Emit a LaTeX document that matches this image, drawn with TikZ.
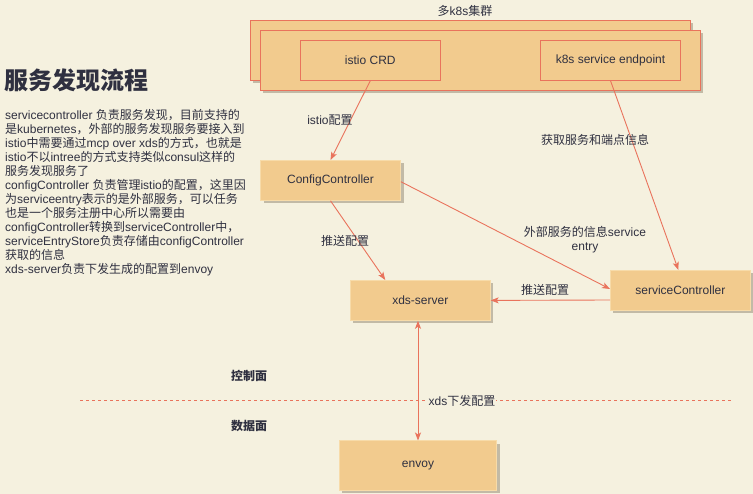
\documentclass[tikz,border=0pt]{standalone}
\usepackage{fontspec}
\setmainfont{Liberation Sans}
\newfontfamily\cjkfont{Noto Sans CJK SC}
\usetikzlibrary{arrows.meta,shadows}
\XeTeXinterchartokenstate=1
\chardef\cjkclass=7
\newcount\cjkcnt
\cjkcnt="4E00
\loop\XeTeXcharclass\cjkcnt=\cjkclass\ifnum\cjkcnt<"9FFF\advance\cjkcnt by 1\repeat
\cjkcnt="FF00
\loop\XeTeXcharclass\cjkcnt=\cjkclass\ifnum\cjkcnt<"FFEF\advance\cjkcnt by 1\repeat
\cjkcnt="3000
\loop\XeTeXcharclass\cjkcnt=\cjkclass\ifnum\cjkcnt<"303F\advance\cjkcnt by 1\repeat
\XeTeXinterchartoks 0 \cjkclass={\cjkfont}
\XeTeXinterchartoks 4095 \cjkclass={\cjkfont}
\XeTeXinterchartoks \cjkclass 0={\rmfamily}
\definecolor{bg}{HTML}{F5F1DF}
\definecolor{boxfill}{HTML}{F2CB8E}
\definecolor{boxedge}{HTML}{F7DBA9}
\definecolor{redc}{HTML}{E9735C}
\definecolor{shadowc}{HTML}{C2BAA6}
\definecolor{txt}{HTML}{2F3040}
\tikzset{
  box/.style={draw=boxedge, fill=boxfill, line width=0.8pt, minimum width=140pt,
    minimum height=40pt, inner sep=0pt, font=\fontsize{12}{14}\selectfont, text=txt,
    drop shadow={shadow xshift=3pt, shadow yshift=-3pt, fill=shadowc, opacity=1}},
  cluster/.style={draw=redc, fill=boxfill, line width=0.8pt, minimum width=440pt,
    minimum height=60pt, inner sep=0pt,
    drop shadow={shadow xshift=3pt, shadow yshift=-3pt, fill=shadowc, opacity=1}},
  inbox/.style={draw=redc, fill=boxfill, line width=0.8pt, minimum width=140pt,
    minimum height=40pt, inner sep=0pt, font=\fontsize{12}{14}\selectfont, text=txt},
  lbl/.style={font=\fontsize{12}{14}\selectfont, text=txt, inner sep=1pt, align=center},
  conn/.style={draw=redc, line width=0.9pt, -{Stealth[length=8pt,width=6pt,inset=2pt]}},
}
\begin{document}
\begin{tikzpicture}[x=1pt,y=-1pt]
\fill[bg] (0,0) rectangle (753,494);
\useasboundingbox (0,0) rectangle (753,494);

% cluster
\node[lbl] (clt) at (465,11) {多k8s集群};
\node[cluster] (cback) at (470.4,50.4) {};
\node[cluster] (cfront) at (480.4,60.4) {};
\node[inbox] (crd) at (370.3,60.3) {istio CRD};
\node[inbox] (ep) at (610.5,60.3) {k8s service endpoint};

% main boxes
\node[box] (cc) at (330.5,180.4) {ConfigController};
\node[box] (xds) at (420.3,300.4) {xds-server};
\node[box] (sc) at (680.4,290.4) {serviceController};
\node[box, minimum width=157.5pt, minimum height=49pt] (envoy) at (418,465.4) {envoy};

% title and description
\node[anchor=west, inner sep=0pt, text=txt, font=\fontsize{24}{28}\selectfont\bfseries] (title) at (4,80) {服务发现流程};
\node[anchor=north west, inner sep=0pt, text=txt, align=left, font=\fontsize{12}{14}\selectfont] (desc) at (5,109) {servicecontroller 负责服务发现，目前支持的\\
是kubernetes，外部的服务发现服务要接入到\\
istio中需要通过mcp over xds的方式，也就是\\
istio不以intree的方式支持类似consul这样的\\
服务发现服务了\\
configController 负责管理istio的配置，这里因\\
为serviceentry表示的是外部服务，可以任务\\
也是一个服务注册中心所以需要由\\
configController转换到serviceController中，\\
serviceEntryStore负责存储由configController\\
获取的信息\\
xds-server负责下发生成的配置到envoy};

% plane labels and divider
\node[lbl, font=\fontsize{12}{14}\selectfont\bfseries] (ctrl) at (249,376) {控制面};
\node[lbl, font=\fontsize{12}{14}\selectfont\bfseries] (data) at (249,426) {数据面};
\coordinate (dl) at (80,400.3);
\coordinate (dr) at (732,400.3);
\draw[redc, line width=0.8pt, dash pattern=on 3pt off 3pt] (dl) -- (dr);

% connectors
\draw[conn] (crd.south) -- (cc.north);
\node[lbl] (l1) at (330,120) {istio配置};
\draw[conn] (ep.south) -- ([xshift=-2pt]sc.north);
\node[lbl] (l2) at (595,140) {获取服务和端点信息};
\draw[conn] (cc.south) -- ([xshift=-35pt]xds.north);
\node[lbl] (l3) at (345,241) {推送配置};
\draw[conn] ([yshift=-1.3pt]cc.east) -- ([yshift=1.4pt]sc.west);
\node[lbl] (l4) at (585,240) {外部服务的信息service\\entry};
\draw[conn] ([yshift=-9.6pt]sc.west) -- (xds.east);
\node[lbl] (l5) at (545,290) {推送配置};
\draw[draw=redc, line width=0.9pt, {Stealth[length=8pt,width=6pt,inset=2pt]}-{Stealth[length=8pt,width=6pt,inset=2pt]}] (envoy.north |- xds.south) -- (envoy.north);
\node[lbl, fill=bg] (l6) at (462,401) {xds下发配置};
\end{tikzpicture}
\end{document}
